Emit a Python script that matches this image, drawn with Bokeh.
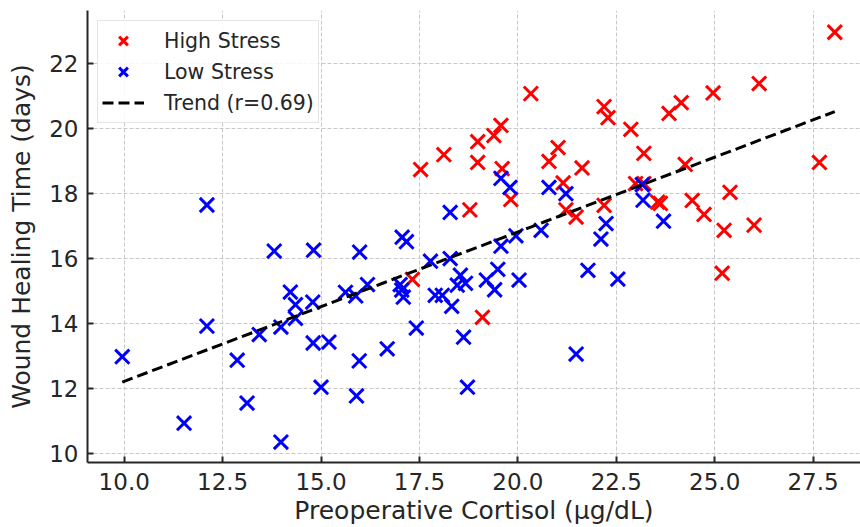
import numpy as np
from bokeh.plotting import figure
from bokeh.models import Range1d, Legend, LegendItem, FixedTicker, NumeralTickFormatter
from bokeh.embed import file_html
from bokeh.resources import INLINE

# ---- data ----
high_x = [28.05, 26.13, 24.96, 24.15, 23.84, 22.87, 22.19, 22.29, 20.33, 19.57,
          19.39, 18.98, 18.98, 18.12, 19.60, 19.82, 18.78, 21.02, 20.79, 21.63,
          21.15, 21.22, 21.48, 22.19, 23.20, 22.99, 23.20, 24.25, 23.55, 23.62,
          24.43, 24.73, 25.39, 25.24, 26.00, 27.66, 25.19, 19.10, 17.32, 17.53]
high_y = [22.97, 21.39, 21.10, 20.80, 20.47, 19.98, 20.68, 20.34, 21.08, 20.10,
          19.79, 19.60, 18.96, 19.20, 18.77, 17.82, 17.50, 19.42, 18.99, 18.79,
          18.33, 17.50, 17.28, 17.64, 19.24, 18.31, 18.31, 18.90, 17.74, 17.70,
          17.79, 17.36, 18.04, 16.87, 17.03, 18.96, 15.55, 14.19, 15.36, 18.74]

low_x = [9.95, 11.52, 12.10, 12.10, 12.87, 13.12, 13.43, 13.81, 13.98, 13.98,
         14.22, 14.35, 14.35, 14.81, 14.79, 14.80, 15.00, 15.20, 15.62, 15.88,
         15.90, 15.98, 15.97, 16.18, 16.68, 17.06, 17.17, 17.01, 17.05, 17.09,
         17.42, 17.78, 17.90, 18.08, 18.28, 18.28, 18.32, 18.46, 18.54, 18.67,
         18.62, 18.72, 19.20, 19.41, 19.49, 19.57, 19.57, 19.80, 19.95, 20.03,
         20.59, 20.79, 21.22, 21.48, 21.78, 22.11, 22.24, 22.54, 23.16, 23.18,
         23.70]
low_y = [12.98, 10.93, 17.65, 13.92, 12.87, 11.55, 13.66, 16.23, 10.35, 13.89,
         14.97, 14.58, 14.16, 16.26, 14.66, 13.40, 12.04, 13.43, 14.96, 14.85,
         11.77, 16.20, 12.85, 15.20, 13.22, 16.66, 16.52, 15.20, 15.03, 14.81,
         13.86, 15.92, 14.87, 14.87, 17.42, 16.00, 14.53, 15.18, 15.49, 15.24,
         13.58, 12.04, 15.34, 15.04, 15.67, 16.38, 18.47, 18.19, 16.70, 15.34,
         16.87, 18.19, 18.00, 13.06, 15.64, 16.60, 17.08, 15.37, 18.28, 17.80,
         17.15]

x_ticks = [10.0, 12.5, 15.0, 17.5, 20.0, 22.5, 25.0, 27.5]
y_ticks = [10, 12, 14, 16, 18, 20, 22]

high_label = "High Stress"
low_label = "Low Stress"
trend_label = "Trend (r=0.69)"
x_label = "Preoperative Cortisol (µg/dL)"
y_label = "Wound Healing Time (days)"

# ---- trend from data ----
all_x = np.array(high_x + low_x)
all_y = np.array(high_y + low_y)
slope, intercept = np.polyfit(all_x, all_y, 1)
trend_x = np.linspace(all_x.min(), all_x.max(), 50)
trend_y = slope * trend_x + intercept

FONT = "DejaVu Sans"
TXT = "#262626"

p = figure(width=860, height=527, output_backend="svg", toolbar_location=None,
           x_range=Range1d(9.067, 28.704), y_range=Range1d(9.72, 23.64),
           min_border_left=87, min_border_right=0, min_border_top=10,
           min_border_bottom=65)
p.outline_line_color = None
p.background_fill_color = "white"

r_high = p.scatter(high_x, high_y, marker="x", size=20, line_color="#ff0000",
                   line_width=3)
r_low = p.scatter(low_x, low_y, marker="x", size=20, line_color="#0000ff",
                  line_width=3)
r_trend = p.line(trend_x, trend_y, line_color="black", line_width=3,
                 line_dash="11 5")

for ax in (p.xaxis[0], p.yaxis[0]):
    ax.axis_line_width = 2
    ax.axis_line_color = TXT
    ax.major_tick_line_color = TXT
    ax.major_tick_line_width = 2
    ax.major_tick_in = 6
    ax.major_tick_out = 0
    ax.minor_tick_line_color = None
    ax.major_label_text_font = FONT
    ax.major_label_text_font_size = "23px"
    ax.major_label_text_color = TXT
    ax.axis_label_text_font = FONT
    ax.axis_label_text_font_size = "25px"
    ax.axis_label_text_font_style = "normal"
    ax.axis_label_text_color = TXT

p.xaxis.ticker = FixedTicker(ticks=x_ticks)
p.yaxis.ticker = FixedTicker(ticks=y_ticks)
p.xaxis.formatter = NumeralTickFormatter(format="0.0")
p.yaxis.formatter = NumeralTickFormatter(format="0")
p.xaxis.axis_label = x_label
p.yaxis.axis_label = y_label
p.xaxis.major_label_standoff = 10
p.xaxis.axis_label_standoff = 3
p.yaxis.major_label_standoff = 9
p.yaxis.axis_label_standoff = 10

for g in (p.xgrid[0], p.ygrid[0]):
    g.grid_line_color = "#c8c8c8"
    g.grid_line_dash = "4 2"
    g.grid_line_width = 1

legend = Legend(items=[LegendItem(label=high_label, renderers=[r_high]),
                       LegendItem(label=low_label, renderers=[r_low]),
                       LegendItem(label=trend_label, renderers=[r_trend])],
                location="top_left", margin=10, padding=4, spacing=0,
                glyph_width=42, glyph_height=31, label_height=25,
                label_standoff=20, label_text_font=FONT,
                label_text_font_size="20.5px", label_text_color=TXT,
                border_line_color="#cccccc", border_line_width=1,
                background_fill_color="white", background_fill_alpha=0.85)
p.add_layout(legend)

open("out.html", "w").write(file_html(p, INLINE))
